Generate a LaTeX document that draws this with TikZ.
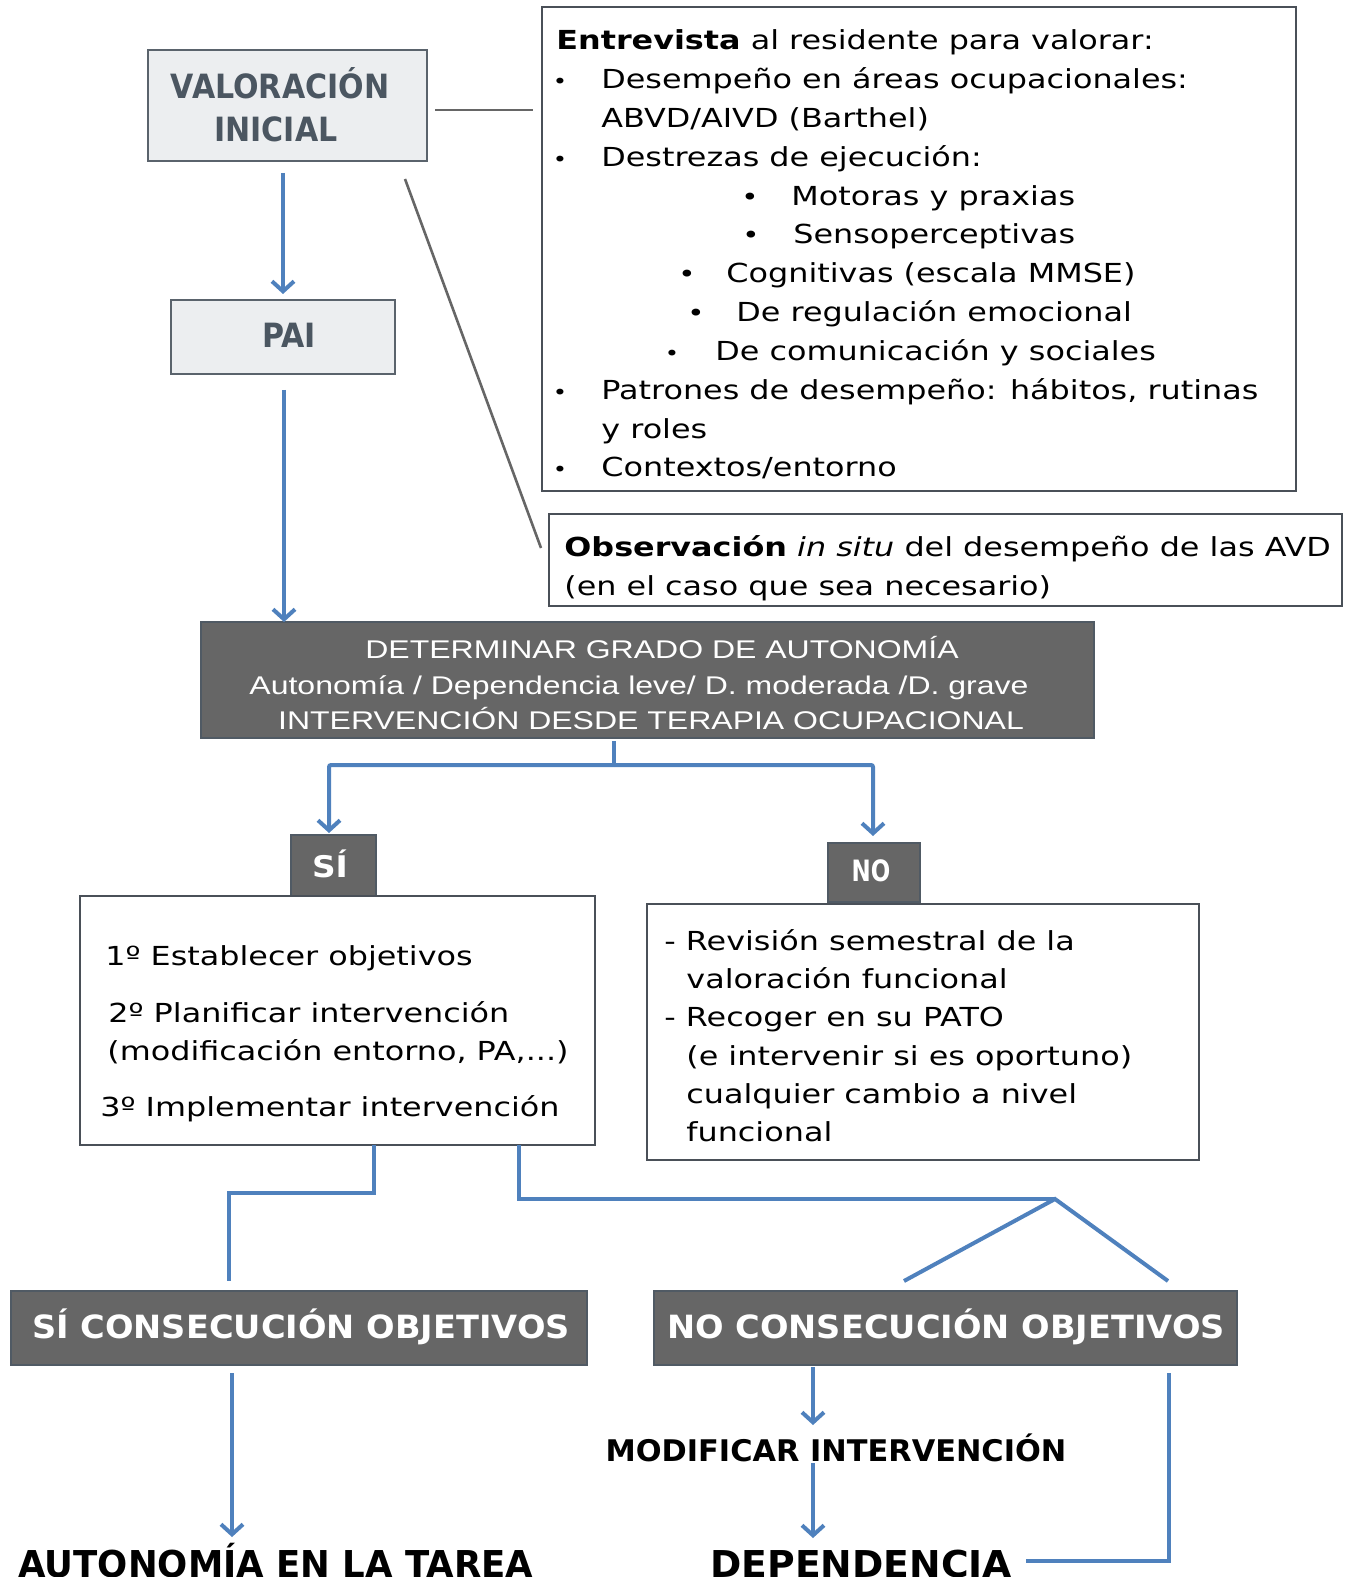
\documentclass[tikz,border=0pt]{standalone}
\usepackage{fontspec}
\usetikzlibrary{arrows.meta,fit}
\newfontfamily\bodyfont[FakeStretch=1.215]{DejaVu Sans}
\newfontfamily\headfont[FakeStretch=0.9]{DejaVu Sans}
\newfontfamily\detfont[FakeStretch=1.25]{Liberation Sans}
\newfontfamily\nofont[FakeStretch=0.78]{DejaVu Sans}
\newfontfamily\sifont[FakeStretch=1.1]{DejaVu Sans}
\newfontfamily\consfont[FakeStretch=1.05]{DejaVu Sans}
\newfontfamily\autfont[FakeStretch=0.96]{DejaVu Sans}
\newfontfamily\depfont[FakeStretch=1.02]{DejaVu Sans}
\newfontfamily\modfont[FakeStretch=1.02]{DejaVu Sans}
\definecolor{myblue}{HTML}{4F81BD}
\definecolor{dfill}{HTML}{666666}
\definecolor{dborder}{HTML}{505A64}
\definecolor{lfill}{HTML}{ECEEF0}
\definecolor{lborder}{HTML}{5A636C}
\definecolor{wborder}{HTML}{4A5058}
\definecolor{headtext}{HTML}{4B5661}
\definecolor{lineg}{HTML}{666666}
\tikzset{
  lbox/.style={draw=lborder, fill=lfill, line width=1.2pt, inner sep=0pt},
  dbox/.style={draw=dborder, fill=dfill, line width=1pt, inner sep=0pt},
  wbox/.style={draw=wborder, line width=1.1pt, inner sep=0pt},
  txt/.style={anchor=base west, inner sep=0pt, font=\bodyfont\fontsize{13.1pt}{16pt}\selectfont},
  bul/.style={anchor=base, inner sep=0pt, font=\bodyfont\fontsize{10pt}{11pt}\selectfont},
  sbul/.style={anchor=base, inner sep=0pt, font=\bodyfont\fontsize{12pt}{14pt}\selectfont},
  head/.style={anchor=base, inner sep=0pt, text=headtext, font=\headfont\bfseries\fontsize{16.7pt}{20pt}\selectfont},
  det/.style={anchor=base, inner sep=0pt, text=white, font=\detfont\fontsize{12.8pt}{15pt}\selectfont},
  conn/.style={draw=myblue, line width=2pt},
  arr/.style={draw=myblue, line width=2pt, -{Straight Barb[length=5pt,width=11pt]}},
  gline/.style={draw=lineg, line width=1.3pt},
}
\begin{document}
\begin{tikzpicture}[x=0.5pt,y=-0.5pt]
\useasboundingbox (0,0) rectangle (1352,1577);
\clip (0,0) rectangle (1352,1577);

% ---------- top-left boxes
\node[lbox, fit={(148,50)(427,161)}] (val) {};
\node[head] (valt1) at (280,99) {VALORACIÓN};
\node[head] (valt2) at (276,142) {INICIAL};
\node[lbox, fit={(171,300)(395,374)}] (pai) {};
\node[head] (pait) at (289,348) {PAI};

% ---------- Entrevista box
\node[wbox, fit={(542,7)(1296,491)}] (entr) {};
\node[txt] (e0) at (556,50) {\textbf{Entrevista} al residente para valorar:};
\node[bul] (b1) at (560,88.8) {•};
\node[txt] (e1) at (601,88.8) {Desempeño en áreas ocupacionales:};
\node[txt] (e2) at (601,127.6) {ABVD/AIVD (Barthel)};
\node[bul] (b3) at (560,166.4) {•};
\node[txt] (e3) at (601,166.4) {Destrezas de ejecución:};
\node[sbul] (b4) at (750,205.2) {•};
\node[txt] (e4) at (791,205.2) {Motoras y praxias};
\node[sbul] (b5) at (751,244) {•};
\node[txt] (e5) at (793,244) {Sensoperceptivas};
\node[sbul] (b6) at (687,282.8) {•};
\node[txt] (e6) at (726,282.8) {Cognitivas (escala MMSE)};
\node[sbul] (b7) at (696,321.6) {•};
\node[txt] (e7) at (736,321.6) {De regulación emocional};
\node[bul] (b8) at (672,360.4) {•};
\node[txt] (e8) at (715,360.4) {De comunicación y sociales};
\node[bul] (b9) at (560,399.2) {•};
\node[txt] (e9) at (601,399.2) {Patrones de desempeño: hábitos, rutinas};
\node[txt] (e10) at (601,438) {y roles};
\node[bul] (b11) at (560,476.8) {•};
\node[txt] (e11) at (601,476.8) {Contextos/entorno};

% ---------- Observación box
\node[wbox, fit={(549,514)(1342,606)}] (obs) {};
\node[txt] (o1) at (564,556) {\textbf{Observación} \textit{in situ} del desempeño de las AVD};
\node[txt] (o2) at (564,595) {(en el caso que sea necesario)};

% grey connectors
\coordinate (g1a) at (435,110);
\coordinate (g1b) at (533,110);
\draw[gline] (g1a) -- (g1b);
\coordinate (g2a) at (405,179);
\coordinate (g2b) at (541,548);
\draw[gline] (g2a) -- (g2b);

% ---------- Determinar box
\node[dbox, fit={(201,622)(1094,738)}] (det) {};
\node[det] (d1) at (662,658) {DETERMINAR GRADO DE AUTONOMÍA};
\node[det] (d2) at (639,694) {Autonomía / Dependencia leve/ D. moderada /D. grave};
\node[det] (d3) at (651,729) {INTERVENCIÓN DESDE TERAPIA OCUPACIONAL};

% arrows top
\coordinate (a1s) at (283,173);
\coordinate (a1e) at (283,294);
\draw[arr] (a1s) -- (a1e);
\coordinate (a2s) at (284,390);
\coordinate (a2e) at (284,622);
\draw[arr] (a2s) -- (a2e);

% branch
\coordinate (br0) at (614,741);
\coordinate (br1) at (614,765);
\coordinate (brL) at (329,765);
\coordinate (brR) at (873,765);
\coordinate (brLe) at (329,833);
\coordinate (brRe) at (873,836);
\draw[conn] (br0) -- (br1);
\draw[arr, rounded corners=1pt] (br1) -- (brL) -- (brLe);
\draw[arr, rounded corners=1pt] (br1) -- (brR) -- (brRe);

% ---------- SI / NO
\node[dbox, fit={(291,835)(376,896)}] (si) {};
\node[anchor=base, inner sep=0pt, text=white, font=\sifont\bfseries\fontsize{14.9pt}{16pt}\selectfont] (sit) at (330,877) {SÍ};
\node[dbox, fit={(828,843)(920,902)}] (no) {};
\node[anchor=base, inner sep=0pt, text=white, font=\nofont\bfseries\fontsize{14.7pt}{16pt}\selectfont] (not) at (871,881) {NO};

\node[wbox, fit={(80,896)(595,1145)}] (sibox) {};
\node[txt] (s1) at (105,965) {1º Establecer objetivos};
\node[txt] (s2) at (108,1022) {2º Planificar intervención};
\node[txt] (s3) at (107,1060) {(modificación entorno, PA,...)};
\node[txt] (s4) at (100,1116) {3º Implementar intervención};

\node[wbox, fit={(647,904)(1199,1160)}] (nobox) {};
\node[txt] (n1) at (664,950) {- Revisión semestral de la};
\node[txt] (n2) at (686,988) {valoración funcional};
\node[txt] (n3) at (664,1026.7) {- Recoger en su PATO};
\node[txt] (n4) at (686,1065) {(e intervenir si es oportuno)};
\node[txt] (n5) at (686,1103) {cualquier cambio a nivel};
\node[txt] (n6) at (686,1141.7) {funcional};

% ---------- lower connectors
\coordinate (c1a) at (374,1145);
\coordinate (c1b) at (374,1193);
\coordinate (c1c) at (229,1193);
\coordinate (c1d) at (229,1281);
\draw[conn] (c1a) -- (c1b) -- (c1c) -- (c1d);
\coordinate (c2a) at (519,1145);
\coordinate (c2b) at (519,1199);
\coordinate (apex) at (1055,1199);
\coordinate (c2l) at (904,1281);
\coordinate (c2r) at (1168,1281);
\draw[conn] (c2a) -- (c2b) -- (apex);
\draw[conn] (c2l) -- (apex) -- (c2r);

% ---------- consecucion boxes
\node[dbox, fit={(11,1291)(587,1365)}] (sicons) {};
\node[anchor=base, inner sep=0pt, text=white, font=\consfont\bfseries\fontsize{16pt}{18pt}\selectfont] (sicont) at (301,1338) {SÍ CONSECUCIÓN OBJETIVOS};
\node[dbox, fit={(654,1291)(1237,1365)}] (nocons) {};
\node[anchor=base, inner sep=0pt, text=white, font=\consfont\bfseries\fontsize{16pt}{18pt}\selectfont] (nocont) at (946,1338) {NO CONSECUCIÓN OBJETIVOS};

% ---------- outcomes
\node[anchor=base, inner sep=0pt, font=\modfont\bfseries\fontsize{14.9pt}{16pt}\selectfont] (mod) at (836,1461) {MODIFICAR INTERVENCIÓN};
\node[anchor=base west, inner sep=0pt, font=\autfont\bfseries\fontsize{18.5pt}{20pt}\selectfont] (aut) at (18,1577) {AUTONOMÍA EN LA TAREA};
\node[anchor=base west, inner sep=0pt, font=\depfont\bfseries\fontsize{18.5pt}{20pt}\selectfont] (dep) at (710,1577) {DEPENDENCIA};

\coordinate (d1s) at (232,1373);
\coordinate (d1e) at (232,1537);
\draw[arr] (d1s) -- (d1e);
\coordinate (d2s) at (813,1367);
\coordinate (d2e) at (813,1425);
\draw[arr] (d2s) -- (d2e);
\coordinate (d3s) at (813,1463);
\coordinate (d3e) at (813,1538);
\draw[arr] (d3s) -- (d3e);
\coordinate (r1) at (1169,1373);
\coordinate (r2) at (1169,1561);
\coordinate (r3) at (1026,1561);
\draw[conn] (r1) -- (r2) -- (r3);
\end{tikzpicture}
\end{document}
